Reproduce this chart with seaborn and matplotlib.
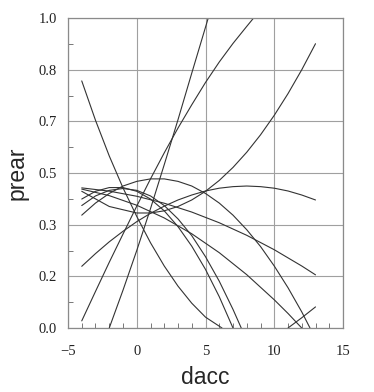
import matplotlib
matplotlib.use("Agg")
import matplotlib.pyplot as plt
from matplotlib.ticker import MultipleLocator, FixedLocator, FormatStrFormatter
import seaborn as sns
import pandas as pd

# curves, (dacc, prear) pairs
a_x = [-4, -3, -2, -1, 0, 1, 2, 3, 4, 5, 6.2]
a_y = [0.797, 0.67, 0.555, 0.452, 0.36, 0.275, 0.2, 0.135, 0.08, 0.035, 0.0]
b_x = [-2, -1, 0, 1, 2, 3, 4, 5.2]
b_y = [0.0, 0.122, 0.25, 0.385, 0.527, 0.672, 0.822, 1.0]
c_x = [-4, -3, -2, -1, 0, 1, 2, 3, 4, 5, 6, 7, 8, 8.5]
c_y = [0.023, 0.118, 0.212, 0.303, 0.393, 0.481, 0.565, 0.645, 0.72, 0.792, 0.858, 0.918, 0.973, 1.0]
d_x = [-4, -2, 0, 1, 2, 3, 4, 5, 6, 7, 8, 9, 10, 11, 12, 13]
d_y = [0.441, 0.392, 0.371, 0.371, 0.378, 0.392, 0.413, 0.441, 0.476, 0.518, 0.567, 0.623, 0.686, 0.756, 0.833, 0.917]
e_x = [-4, -3, -2, -1, 0, 1, 2, 3, 4, 5, 6, 7, 8, 9, 10, 11, 12, 12.6]
e_y = [0.364, 0.403, 0.434, 0.458, 0.473, 0.481, 0.481, 0.473, 0.458, 0.434, 0.403, 0.364, 0.317, 0.263, 0.2, 0.13, 0.052, 0.0]
f_x = [-4, -3, -2, -1, 0, 1, 2, 3, 4, 5, 6, 7, 8, 9, 10, 11, 12, 13]
f_y = [0.199, 0.24, 0.278, 0.312, 0.343, 0.37, 0.393, 0.413, 0.429, 0.442, 0.451, 0.456, 0.458, 0.456, 0.451, 0.442, 0.429, 0.413]
g_x = [-4, -2, 0, 2, 4, 6, 8, 10, 12, 13]
g_y = [0.452, 0.4415, 0.425, 0.4025, 0.374, 0.3395, 0.299, 0.2525, 0.2, 0.1715]
q_x = [-4, -2, 0, 2, 4, 6, 8, 10, 11, 12]
q_y = [0.448, 0.427, 0.396, 0.355, 0.304, 0.243, 0.172, 0.091, 0.047, 0.0]
p1_x = [-4, -3, -2, -1, 0, 1, 2, 3, 4, 5, 6, 7]
p1_y = [0.416, 0.441, 0.453, 0.453, 0.441, 0.416, 0.378, 0.327, 0.264, 0.189, 0.101, 0.0]
p2_x = [-4, -3, -2, -1, 0, 1, 2, 3, 4, 5, 6, 7, 7.6]
p2_y = [0.395, 0.426, 0.444, 0.45, 0.444, 0.426, 0.395, 0.352, 0.298, 0.23, 0.151, 0.06, 0.0]
h_x = [11, 12, 13]
h_y = [0.0, 0.033, 0.068]

curves = {"a": (a_x, a_y), "b": (b_x, b_y), "c": (c_x, c_y), "d": (d_x, d_y),
          "e": (e_x, e_y), "f": (f_x, f_y), "g": (g_x, g_y), "q": (q_x, q_y),
          "p1": (p1_x, p1_y), "p2": (p2_x, p2_y), "h": (h_x, h_y)}

y_ticks = [0, 1 / 6, 2 / 6, 3 / 6, 4 / 6, 5 / 6, 1]

frames = []
for name, (xs, ys) in curves.items():
    frames.append(pd.DataFrame({"dacc": xs, "prear": ys, "curve": name}))
df = pd.concat(frames, ignore_index=True)

sns.set_style("white")
plt.rcParams["font.family"] = ["Liberation Serif", "DejaVu Serif"]

fig = plt.figure(figsize=(3.74, 3.92), dpi=100)
ax = fig.add_axes([68 / 374, 64 / 392, 275 / 374, 310 / 392])

sns.lineplot(data=df, x="dacc", y="prear", units="curve", estimator=None,
             sort=False, color="#333333", linewidth=0.8, ax=ax)

ax.set_xlim(-5, 15)
ax.set_ylim(0, 1)
ax.xaxis.set_major_locator(MultipleLocator(5))
ax.xaxis.set_minor_locator(MultipleLocator(1))
ax.yaxis.set_major_locator(FixedLocator(y_ticks))
ax.yaxis.set_minor_locator(MultipleLocator(1 / 12))
ax.yaxis.set_major_formatter(FormatStrFormatter("%.1f"))
ax.grid(True, which="major", color="#a0a0a0", linewidth=0.8)
ax.set_axisbelow(True)
ax.tick_params(which="both", direction="in", left=True, bottom=True,
               labelsize=10.5, colors="#222222")
ax.tick_params(axis="x", which="major", length=0, pad=12)
ax.tick_params(axis="y", which="major", length=0, pad=8)
ax.tick_params(which="minor", length=3.5, color="#777777", width=0.7)
for s in ax.spines.values():
    s.set_color("#8a8a8a")
    s.set_linewidth(0.9)

ax.set_xlabel("dacc", family=["Liberation Sans", "DejaVu Sans"], fontsize=16.5, labelpad=6)
ax.set_ylabel("prear", family=["Liberation Sans", "DejaVu Sans"], fontsize=16.5, labelpad=7)

fig.savefig("out.png", dpi=100, facecolor="white")
